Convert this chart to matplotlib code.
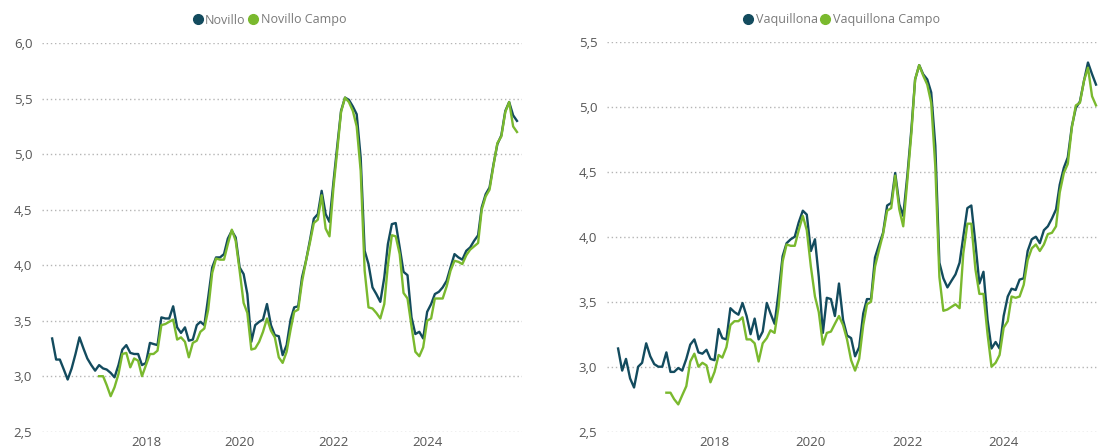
import numpy as np
import pandas as pd
import matplotlib
matplotlib.use("Agg")
import matplotlib.pyplot as plt
from matplotlib.lines import Line2D
from matplotlib.ticker import FuncFormatter

plt.rcParams['font.family'] = ['Open Sans', 'DejaVu Sans']

# monthly series, Jan 2016 .. Dec 2025
months = pd.date_range("2016-01-01", periods=120, freq="MS")

novillo = [
    3.34, 3.15, 3.15, 3.06, 2.97, 3.07, 3.20, 3.35, 3.25, 3.16,
    3.10, 3.05, 3.10, 3.07, 3.06, 3.03, 2.99, 3.10, 3.24, 3.28,
    3.21, 3.20, 3.20, 3.10, 3.12, 3.30, 3.29, 3.28, 3.53, 3.52,
    3.52, 3.63, 3.44, 3.39, 3.44, 3.32, 3.33, 3.46, 3.49, 3.46,
    3.71, 3.98, 4.07, 4.07, 4.10, 4.24, 4.31, 4.25, 3.98, 3.92,
    3.74, 3.31, 3.46, 3.49, 3.51, 3.65, 3.46, 3.37, 3.36, 3.19,
    3.28, 3.51, 3.62, 3.63, 3.89, 4.04, 4.22, 4.42, 4.46, 4.67,
    4.46, 4.39, 4.75, 5.09, 5.39, 5.51, 5.49, 5.43, 5.36, 4.97,
    4.13, 4.01, 3.80, 3.74, 3.67, 3.89, 4.19, 4.37, 4.38, 4.16,
    3.94, 3.91, 3.53, 3.38, 3.40, 3.34, 3.58, 3.65, 3.74, 3.76,
    3.80, 3.86, 3.98, 4.10, 4.07, 4.05, 4.13, 4.16, 4.22, 4.27,
    4.52, 4.64, 4.70, 4.91, 5.09, 5.17, 5.39, 5.47, 5.35, 5.30,
]

# campo series start in Jan 2017
novillo_campo = [np.nan] * 12 + [
    3.00, 3.00, 2.92, 2.82, 2.90, 3.02, 3.20, 3.21,
    3.08, 3.16, 3.14, 3.00, 3.10, 3.20, 3.20, 3.23, 3.46, 3.47,
    3.49, 3.51, 3.33, 3.35, 3.31, 3.17, 3.30, 3.32, 3.40, 3.43,
    3.60, 3.93, 4.06, 4.05, 4.05, 4.19, 4.32, 4.22, 3.95, 3.66,
    3.57, 3.24, 3.25, 3.31, 3.40, 3.52, 3.41, 3.35, 3.17, 3.12,
    3.22, 3.42, 3.58, 3.60, 3.85, 4.04, 4.20, 4.38, 4.41, 4.63,
    4.33, 4.26, 4.70, 5.05, 5.38, 5.51, 5.47, 5.39, 5.25, 4.85,
    3.95, 3.62, 3.61, 3.57, 3.52, 3.65, 4.00, 4.27, 4.26, 4.10,
    3.75, 3.70, 3.45, 3.22, 3.18, 3.26, 3.50, 3.52, 3.70, 3.70,
    3.70, 3.81, 3.95, 4.04, 4.03, 4.01, 4.09, 4.14, 4.17, 4.20,
    4.50, 4.62, 4.68, 4.90, 5.10, 5.16, 5.38, 5.47, 5.25, 5.20,
]

vaquillona = [
    3.14, 2.97, 3.06, 2.91, 2.84, 3.00, 3.03, 3.18, 3.08, 3.02,
    3.00, 3.00, 3.11, 2.96, 2.96, 2.99, 2.97, 3.06, 3.17, 3.21,
    3.11, 3.10, 3.13, 3.06, 3.05, 3.29, 3.22, 3.21, 3.45, 3.42,
    3.40, 3.49, 3.39, 3.25, 3.37, 3.21, 3.27, 3.49, 3.41, 3.33,
    3.57, 3.85, 3.95, 3.98, 4.00, 4.11, 4.20, 4.17, 3.89, 3.98,
    3.69, 3.26, 3.53, 3.52, 3.39, 3.64, 3.36, 3.24, 3.22, 3.08,
    3.15, 3.41, 3.52, 3.52, 3.84, 3.94, 4.03, 4.24, 4.26, 4.49,
    4.25, 4.16, 4.47, 4.83, 5.21, 5.32, 5.25, 5.21, 5.11, 4.70,
    3.80, 3.68, 3.61, 3.66, 3.71, 3.80, 4.00, 4.22, 4.24, 3.95,
    3.64, 3.73, 3.36, 3.14, 3.19, 3.14, 3.39, 3.54, 3.60, 3.59,
    3.67, 3.68, 3.89, 3.98, 4.00, 3.95, 4.05, 4.08, 4.14, 4.21,
    4.40, 4.53, 4.61, 4.85, 4.99, 5.04, 5.20, 5.34, 5.25, 5.17,
]

vaquillona_campo = [np.nan] * 12 + [
    2.80, 2.80, 2.75, 2.71, 2.78, 2.85, 3.04, 3.10,
    3.00, 3.03, 3.01, 2.88, 2.96, 3.09, 3.07, 3.15, 3.32, 3.35,
    3.35, 3.38, 3.21, 3.21, 3.18, 3.04, 3.18, 3.22, 3.28, 3.26,
    3.46, 3.81, 3.94, 3.93, 3.93, 4.05, 4.16, 4.05, 3.77, 3.54,
    3.42, 3.17, 3.26, 3.27, 3.33, 3.39, 3.32, 3.21, 3.05, 2.97,
    3.06, 3.32, 3.48, 3.50, 3.77, 3.90, 4.02, 4.20, 4.22, 4.47,
    4.21, 4.08, 4.43, 4.80, 5.21, 5.32, 5.24, 5.17, 5.03, 4.54,
    3.69, 3.43, 3.44, 3.46, 3.48, 3.45, 3.87, 4.10, 4.10, 3.75,
    3.56, 3.56, 3.25, 3.00, 3.03, 3.09, 3.30, 3.35, 3.54, 3.53,
    3.54, 3.63, 3.82, 3.91, 3.94, 3.89, 3.94, 4.02, 4.03, 4.08,
    4.34, 4.49, 4.56, 4.84, 5.01, 5.03, 5.20, 5.30, 5.08, 5.01,
]

year_ticks = ["2018", "2020", "2022", "2024"]

DARK = "#134b5e"
GREEN = "#7ab92e"
TXT = "#555555"


def comma(v, pos):
    return f"{v:.1f}".replace(".", ",")


def style_axis(ax, ymin, ymax, xmin, xmax):
    ax.set_ylim(ymin, ymax)
    ax.set_yticks(np.arange(ymin, ymax + 0.01, 0.5))
    ax.yaxis.set_major_formatter(FuncFormatter(comma))
    ax.set_xlim(xmin, xmax)
    ax.set_xticks([pd.Timestamp(f"{y}-01-01") for y in year_ticks])
    ax.set_xticklabels(year_ticks)
    ax.grid(axis="y", color="#b5b5b5", linestyle=(0, (1, 2)), linewidth=1.0)
    ax.set_axisbelow(True)
    for s in ax.spines.values():
        s.set_visible(False)
    ax.tick_params(length=0, labelsize=9.5, colors=TXT)
    ax.tick_params(axis="y", pad=7)
    ax.tick_params(axis="x", pad=3)


def legend(fig, xc, labels):
    handles = [Line2D([], [], marker="o", linestyle="", markersize=7,
                      color=c) for c in (DARK, GREEN)]
    fig.legend(handles, labels, loc="center", bbox_to_anchor=(xc, 1 - 20 / 448),
               ncol=2, frameon=False, handletextpad=0.3, columnspacing=0.3,
               fontsize=9, labelcolor="#7a7a7a", handlelength=0.6,
               borderpad=0, borderaxespad=0)


fig = plt.figure(figsize=(10.98, 4.48), dpi=100)

ax1 = fig.add_axes([42 / 1098, 1 - 431.7 / 448, 480 / 1098, 388.5 / 448])
ax1.plot(months, novillo, color=DARK, lw=1.7)
ax1.plot(months, novillo_campo, color=GREEN, lw=1.7)
style_axis(ax1, 2.5, 6.0, pd.Timestamp("2015-10-14"), pd.Timestamp("2026-01-09"))
legend(fig, 270 / 1098, ["Novillo", "Novillo Campo"])

ax2 = fig.add_axes([607 / 1098, 1 - 431.7 / 448, 491 / 1098, 390 / 448])
ax2.plot(months, vaquillona, color=DARK, lw=1.7)
ax2.plot(months, vaquillona_campo, color=GREEN, lw=1.7)
style_axis(ax2, 2.5, 5.5, pd.Timestamp("2015-10-09"), pd.Timestamp("2025-12-16"))
legend(fig, 842 / 1098, ["Vaquillona", "Vaquillona Campo"])

fig.savefig("out.png", dpi=100)
